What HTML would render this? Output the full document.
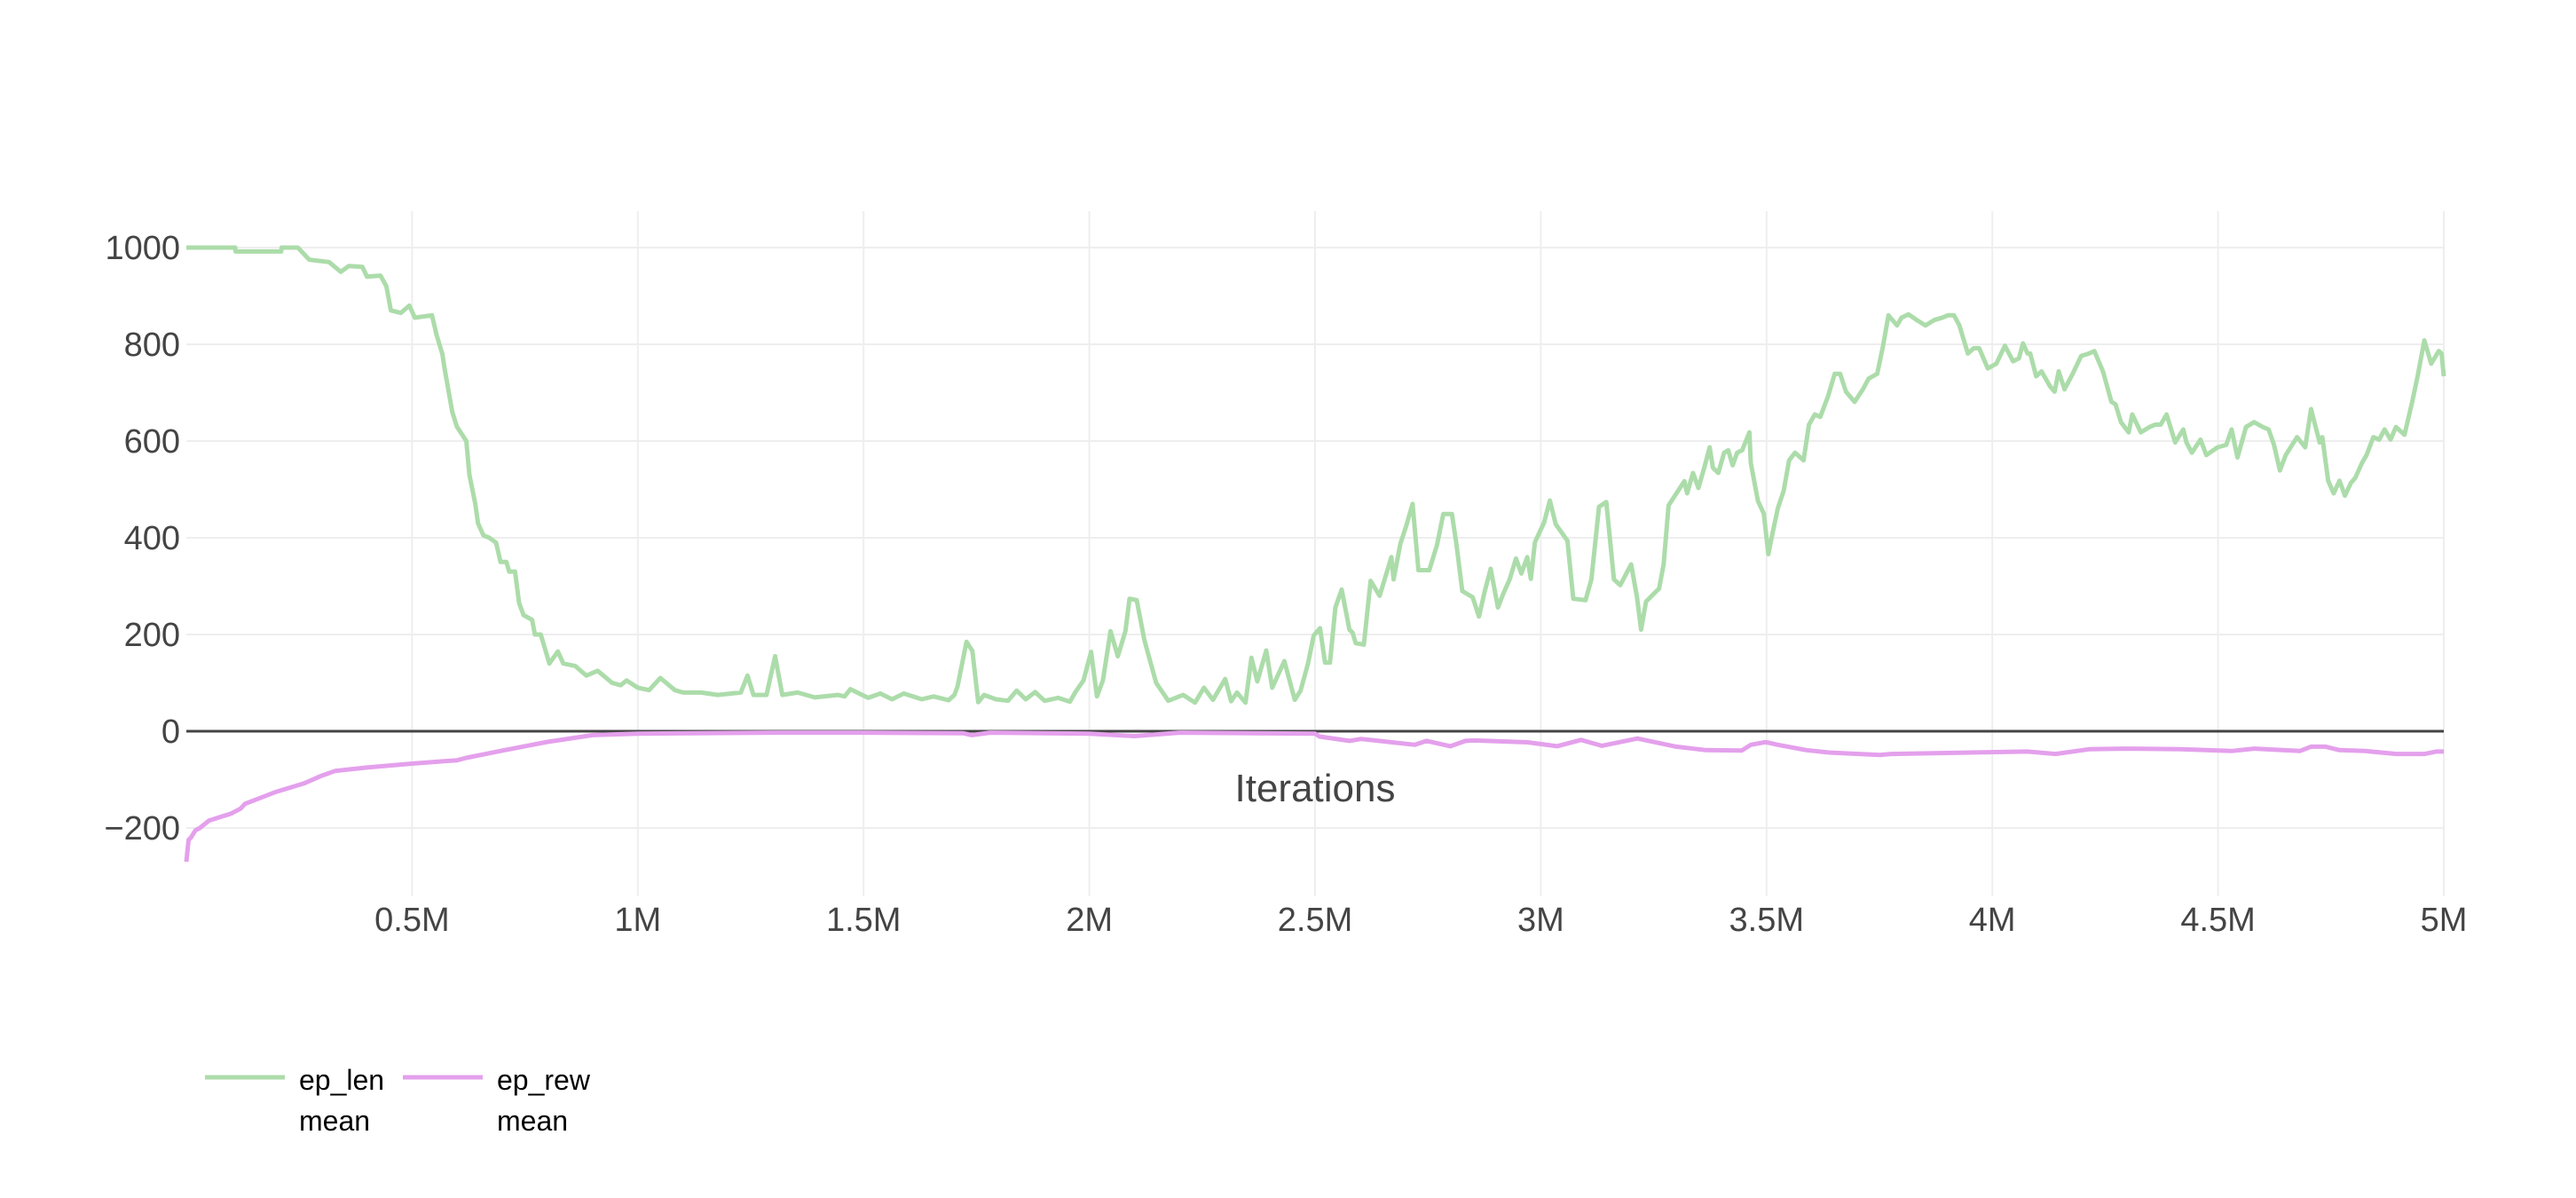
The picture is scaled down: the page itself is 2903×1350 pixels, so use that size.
<!DOCTYPE html>
<html><head><meta charset="utf-8"><style>
html,body{margin:0;padding:0;background:#fff;width:2903px;height:1350px;overflow:hidden}
svg{display:block;font-family:"Liberation Sans","DejaVu Sans",sans-serif}
</style></head><body>
<svg id="chart" width="2903" height="1350" viewBox="0 0 2903 1350" xmlns="http://www.w3.org/2000/svg">
<g id="grid"></g>
<g id="zero"></g>
<g id="series"></g>
<g id="yticks"></g>
<g id="xticks"></g>
<text x="1482" y="903" text-anchor="middle" font-size="44" fill="#444">Iterations</text>
<g>
  <g>
    <line x1="231" y1="1214" x2="321" y2="1214" stroke="rgb(172,220,170)" stroke-width="5"/>
    <text x="337" y="1228" font-size="32" fill="#000">ep_len</text>
    <text x="337" y="1274" font-size="32" fill="#000">mean</text>
  </g>
  <g>
    <line x1="454" y1="1214" x2="544" y2="1214" stroke="rgb(228,160,236)" stroke-width="5"/>
    <svg x="0" y="0" width="672" height="1350" overflow="hidden"><text x="560" y="1228" font-size="32" fill="#000">ep_rew</text></svg>
    <text x="560" y="1274" font-size="32" fill="#000">mean</text>
  </g>
</g>
</svg>
<script>
const xTicks=[0.5,1,1.5,2,2.5,3,3.5,4,4.5,5];
const xTickLabels=["0.5M","1M","1.5M","2M","2.5M","3M","3.5M","4M","4.5M","5M"];
const yTicks=[-200,0,200,400,600,800,1000];
const yTickLabels=["\u2212200","0","200","400","600","800","1000"];
const lenX=[0,0.108,0.109,0.21,0.211,0.247,0.272,0.316,0.342,0.36,0.39,0.40,0.43,0.443,0.453,0.475,0.494,0.506,0.544,0.554,0.567,0.572,0.589,0.599,0.62,0.627,0.64,0.646,0.658,0.671,0.686,0.696,0.709,0.715,0.728,0.737,0.747,0.766,0.772,0.785,0.804,0.823,0.835,0.861,0.886,0.911,0.943,0.962,0.975,1.0,1.025,1.05,1.082,1.1,1.14,1.177,1.228,1.243,1.256,1.285,1.304,1.32,1.354,1.392,1.443,
1.458,1.471,1.510,1.537,1.563,1.589,1.629,1.655,1.688,1.701,1.708,1.728,1.741,1.754,1.767,1.793,1.820,1.839,1.859,1.880,1.901,1.931,1.957,1.970,1.987,2.004,2.017,2.030,2.047,2.063,2.080,2.089,2.105,2.122,2.148,2.175,2.208,2.234,2.254,2.274,2.301,2.314,2.327,2.346,2.359,2.372,2.392,2.405,2.432,2.455,2.468,2.484,2.497,2.511,2.522,2.533,2.545,2.559,2.576,2.583,2.590,2.608,2.623,2.643,2.669,2.674,2.689,2.702,2.716,2.729,2.753,2.770,2.784,2.803,2.813,2.826,2.849,2.863,2.876,2.889,2.905,2.918,2.931,2.945,2.957,2.970,2.978,2.987,3.007,3.020,3.033,3.059,3.072,3.099,3.112,3.129,3.145,3.162,3.176,3.200,3.213,3.222,3.233,3.262,3.272,3.283,3.318,
3.324,3.337,3.349,3.362,3.374,3.381,3.393,3.406,3.415,3.425,3.435,3.446,3.462,3.465,3.481,3.494,3.504,3.513,3.525,3.538,3.550,3.563,3.582,3.594,3.607,3.619,3.636,3.651,3.663,3.676,3.695,3.714,3.726,3.745,3.758,3.770,3.789,3.799,3.814,3.833,3.852,3.871,3.889,3.902,3.915,3.927,3.946,3.959,3.971,3.990,4.009,4.028,4.046,4.059,4.068,4.078,4.084,4.097,4.109,4.128,4.138,4.147,4.160,4.178,4.197,4.214,4.226,4.245,4.264,4.273,4.285,4.302,4.310,4.329,4.348,4.361,4.373,4.386,4.405,4.423,4.430,4.442,4.461,4.474,4.499,4.518,4.530,4.543,4.562,4.580,4.599,4.612,4.624,4.637,4.650,4.675,4.693,4.706,4.725,4.731,4.744,4.756,4.769,4.781,4.794,4.804,4.819,4.829,4.844,4.857,4.869,4.882,4.894,4.913,4.930,4.942,4.957,4.972,4.989,4.995,5.0];
const lenY=[1000,1000,992,992,1000,1000,975,970,950,962,960,940,942,920,870,865,880,855,860,820,780,750,660,630,600,530,470,430,405,400,390,350,350,330,330,265,240,230,200,200,140,165,140,135,115,125,100,95,105,90,85,110,85,80,80,75,80,115,75,75,155,75,80,70,75,
72,87,69,78,66,78,66,72,64,75,92,185,166,60,75,66,63,84,66,81,63,69,61,82,105,164,72,105,207,155,207,274,271,188,100,63,75,59,90,65,108,62,80,59,152,103,167,90,145,65,84,139,198,213,142,142,256,293,210,204,182,179,311,280,360,314,388,425,470,333,333,385,449,449,387,290,277,237,290,336,256,287,314,357,326,360,315,391,431,477,428,394,274,271,314,464,474,314,302,345,277,210,268,295,345,467,517,492,
534,503,545,587,545,534,576,581,550,576,581,618,555,476,450,366,408,461,497,560,576,560,634,655,650,692,739,739,702,681,708,729,739,797,860,839,855,862,850,839,850,855,860,860,839,781,792,792,750,760,797,765,771,802,781,781,734,744,713,702,744,707,739,776,781,786,744,681,676,639,618,655,618,629,634,634,655,597,624,597,576,603,571,587,592,624,566,629,639,629,624,592,539,571,608,587,666,597,608,518,492,518,487,513,524,555,571,608,603,624,603,629,613,681,734,808,760,786,781,734,723];
const rewX=[0,0.005,0.01,0.02,0.03,0.05,0.1,0.12,0.13,0.2,0.26,0.3,0.33,0.4,0.5,0.6,0.62,0.7,0.8,0.9,1.0,1.3,1.5,1.72,1.74,1.78,2.0,2.1,2.2,2.5,2.51,2.576,2.602,2.642,2.721,2.747,2.800,2.833,2.853,2.971,3.036,3.089,3.135,3.214,3.30,3.366,3.445,3.465,3.495,3.5,3.525,3.588,3.638,3.751,3.776,4.077,4.140,4.216,4.291,4.417,4.530,4.580,4.681,4.706,4.738,4.769,4.826,4.895,4.958,4.983,5.0];
const rewY=[-270,-225,-220,-205,-200,-185,-170,-160,-150,-125,-108,-92,-82,-75,-67,-60,-55,-40,-22,-8,-5,-3,-3,-4,-8,-3,-5,-10,-3,-5,-11,-20,-16,-20,-28,-20,-31,-20,-19,-23,-31,-18,-30,-15,-32,-39,-40,-28,-23,-23,-28,-39,-44,-49,-47,-42,-47,-37,-36,-37,-41,-36,-41,-32,-32,-39,-41,-47,-47,-42,-42];

const XL=210,XR=2754,YT=238,YB=1010,Y0=824,K=0.545;
function sx(v){return XL+(XR-XL)*v/5;}
function sy(v){return Y0-v*K;}
const NS="http://www.w3.org/2000/svg";
function mk(t,a,p){const e=document.createElementNS(NS,t);for(const k in a)e.setAttribute(k,a[k]);p.appendChild(e);return e;}
const grid=document.getElementById('grid');
xTicks.forEach((t,i)=>{
  const l=mk('line',{x1:sx(t),x2:sx(t),y1:YT,y2:YB,stroke:'#eeeeee','stroke-width':2},grid);
  
  
  const tx=mk('text',{x:sx(t),y:1049,'text-anchor':'middle','font-size':38,fill:'#444'},document.getElementById('xticks'));
  
  
  tx.textContent=xTickLabels[i];
});
yTicks.forEach((t,i)=>{
  if(t!==0){
    const l=mk('line',{x1:XL,x2:XR,y1:sy(t),y2:sy(t),stroke:'#eeeeee','stroke-width':2},grid);
    
    
  }
  const tx=mk('text',{x:203,y:sy(t)+13,'text-anchor':'end','font-size':38,fill:'#444'},document.getElementById('yticks'));
  
  
  tx.textContent=yTickLabels[i];
});
const z=mk('line',{x1:XL,x2:XR,y1:sy(0),y2:sy(0),stroke:'#444','stroke-width':3},document.getElementById('zero'));


function path(xs,ys,c,name){
  const d=xs.map((x,i)=>(i?'L':'M')+sx(x).toFixed(1)+' '+sy(ys[i]).toFixed(1)).join(' ');
  const p=mk('path',{d:d,fill:'none',stroke:c,'stroke-width':5,'stroke-linejoin':'round'},document.getElementById('series'));
  
  
}
path(rewX,rewY,'rgb(228,160,236)','ep-rew-mean-line');
path(lenX,lenY,'rgb(172,220,170)','ep-len-mean-line');
</script>
</body></html>
